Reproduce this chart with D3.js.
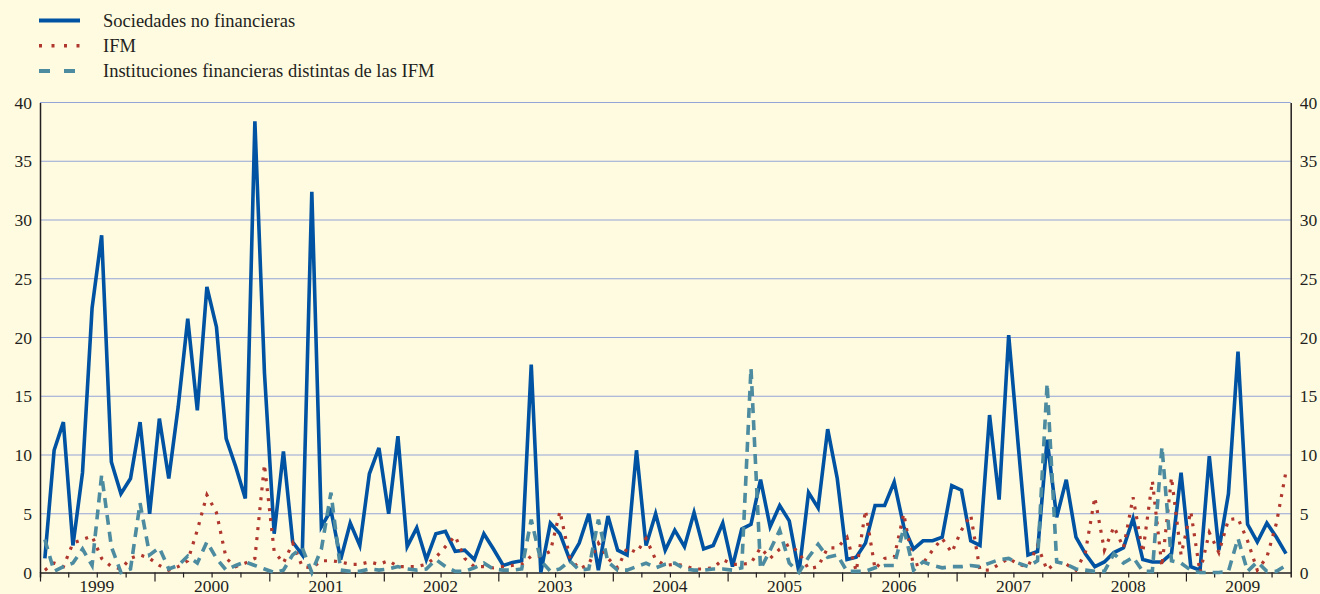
<!DOCTYPE html>
<html lang="es">
<head>
<meta charset="UTF-8">
<title>Sociedades no financieras, IFM e instituciones financieras</title>
<script src="https://cdnjs.cloudflare.com/ajax/libs/d3/7.8.5/d3.min.js"></script>
<style>
  body { margin: 0; background: #fffbe0; }
  svg { display: block; }
  svg text { font-family: "Liberation Serif", "Times New Roman", serif; }
</style>
</head>
<body>
<svg id="chart" width="1320" height="594"></svg>
<script>
// monthly data, Jan 1999 .. Nov 2009
const startMonth = new Date(1999, 0, 1);
const monthCount = 131;

const sociedades = [
  1.2, 10.4, 12.8, 2.3, 8.5, 22.5, 28.7, 9.4, 6.7, 8.0,
  12.8, 5.0, 13.1, 8.0, 14.1, 21.6, 13.8, 24.3, 20.9, 11.4,
  9.0, 6.3, 38.4, 17.0, 3.3, 10.3, 2.6, 1.5, 32.4, 3.9,
  5.3, 1.1, 4.2, 2.3, 8.4, 10.6, 5.0, 11.6, 2.2, 3.8,
  1.1, 3.3, 3.5, 1.8, 1.9, 1.1, 3.3, 2.0, 0.6, 0.85,
  1.0, 17.7, 0.0, 4.2, 3.3, 1.1, 2.5, 5.0, 0.2, 4.8,
  1.9, 1.5, 10.4, 2.3, 5.0, 1.9, 3.6, 2.2, 5.1, 2.0,
  2.3, 4.2, 0.5, 3.7, 4.1, 7.9, 3.9, 5.7, 4.4, 0.0,
  6.8, 5.5, 12.2, 8.0, 1.1, 1.3, 2.5, 5.7, 5.7, 7.7,
  3.9, 2.0, 2.7, 2.7, 3.0, 7.4, 7.0, 2.7, 2.3, 13.4,
  6.2, 20.2, 10.8, 1.5, 1.8, 11.3, 4.7, 7.9, 3.0, 1.6,
  0.5, 0.9, 1.7, 2.1, 4.6, 1.1, 0.9, 0.9, 1.6, 8.5,
  0.5, 0.2, 9.9, 1.9, 6.7, 18.8, 4.1, 2.6, 4.2, 3.0,
  1.6
];

const ifm = [
  0.2, 0.8, 0.5, 2.5, 2.8, 3.1, 1.2, 0.5, 0.3, 1.2,
  1.5, 1.2, 0.6, 0.2, 0.5, 1.0, 3.6, 6.6, 5.1, 1.2,
  0.5, 0.8, 1.2, 9.2, 1.8, 0.8, 2.5, 0.5, 0.4, 1.0,
  1.0, 0.9, 0.7, 0.7, 0.9, 0.7, 1.0, 0.5, 0.5, 0.5,
  0.7, 1.3, 2.2, 3.1, 1.2, 0.5, 0.5, 0.4, 0.5, 0.6,
  0.7, 1.4, 1.4, 1.8, 5.2, 1.3, 0.3, 0.7, 2.5, 1.2,
  0.4, 2.1, 1.7, 2.9, 1.1, 0.6, 0.7, 0.6, 0.3, 0.3,
  0.4, 1.1, 0.7, 0.7, 0.8, 2.1, 1.2, 2.0, 2.4, 1.7,
  0.3, 0.5, 2.1, 2.1, 3.0, 0.1, 5.3, 0.3, 1.2, 1.3,
  5.0, 0.6, 0.8, 1.9, 2.9, 1.7, 3.6, 4.9, 0.2, 0.2,
  0.7, 1.2, 0.7, 0.5, 2.3, 0.2, 0.9, 0.7, 0.2, 1.7,
  6.4, 1.9, 3.9, 2.1, 6.4, 1.7, 7.8, 0.5, 8.1, 1.5,
  5.2, 0.0, 3.4, 1.7, 4.5, 4.6, 2.7, 0.2, 1.3, 4.2,
  8.6
];

const otrasInstituciones = [
  2.8, 0.1, 0.5, 0.8, 2.0, 0.6, 8.3, 2.2, 0.0, 0.3,
  5.9, 1.5, 2.1, 0.3, 0.6, 1.4, 0.8, 2.6, 1.2, 0.2,
  0.6, 0.9, 0.6, 0.3, 0.0, 0.2, 1.5, 2.1, 0.0, 2.0,
  6.8, 0.2, 0.1, 0.1, 0.3, 0.2, 0.3, 0.5, 0.3, 0.2,
  0.3, 1.1, 0.5, 0.1, 0.1, 0.4, 0.8, 0.3, 0.2, 0.2,
  0.3, 4.5, 1.0, 0.1, 0.3, 1.0, 0.2, 0.3, 4.5, 0.9,
  0.2, 0.2, 0.5, 0.8, 0.4, 0.7, 0.8, 0.3, 0.2, 0.2,
  0.3, 0.3, 0.2, 0.4, 17.4, 0.3, 1.9, 3.6, 0.8, 0.0,
  1.3, 2.4, 1.3, 1.5, 0.1, 0.1, 0.1, 0.4, 0.6, 0.6,
  3.8, 0.2, 0.9, 0.6, 0.4, 0.5, 0.5, 0.6, 0.5, 0.8,
  1.1, 1.2, 0.8, 0.5, 1.0, 16.1, 0.9, 0.7, 0.3, 0.2,
  0.1, 0.1, 1.6, 0.8, 1.3, 0.1, 0.1, 10.7, 1.0, 0.8,
  0.2, 0.0, 0.0, 0.0, 0.1, 2.9, 0.1, 0.9, 0.1, 0.1,
  0.6
];

const yTicks = [0, 5, 10, 15, 20, 25, 30, 35, 40];
const years = d3.range(1999, 2010);
const seriesNames = [
  "Sociedades no financieras",
  "IFM",
  "Instituciones financieras distintas de las IFM"
];

const svg = d3.select("#chart");
const plotLeft = 40, plotRight = 1290.7, plotTop = 102.5, plotBottom = 572.5;
const ink = "#231f20";

const months = d3.range(monthCount).map(i => d3.timeMonth.offset(startMonth, i));
const x = d3.scaleTime()
  .domain([startMonth, d3.timeMonth.offset(startMonth, monthCount)])
  .range([plotLeft, plotRight]);
const y = d3.scaleLinear().domain([0, 40]).range([plotBottom, plotTop]);
const xMid = i => (x(months[i]) + x(d3.timeMonth.offset(months[i], 1))) / 2;

// grid
svg.append("g")
  .selectAll("line")
  .data(yTicks.filter(d => d > 0))
  .join("line")
  .attr("x1", plotLeft).attr("x2", plotRight)
  .attr("y1", d => y(d)).attr("y2", d => y(d))
  .attr("stroke", "#95a4d8")
  .attr("stroke-width", 1.2);

// y axes
const yLeft = svg.append("g")
  .attr("transform", `translate(${plotLeft},0)`)
  .call(d3.axisLeft(y).tickValues(yTicks).tickSize(0).tickPadding(8));
const yRight = svg.append("g")
  .attr("transform", `translate(${plotRight},0)`)
  .call(d3.axisRight(y).tickValues(yTicks).tickSize(0).tickPadding(9));
[yLeft, yRight].forEach(g => {
  g.attr("font-family", null).attr("font-size", null);
  g.select(".domain").attr("stroke", ink).attr("stroke-width", 1.5);
  g.selectAll("text").attr("fill", ink).style("font-size", "17.5px");
});

// x axis: quarter ticks, taller at year starts
const xAxis = svg.append("g")
  .attr("transform", `translate(0,${plotBottom})`)
  .call(d3.axisBottom(x)
    .ticks(d3.timeMonth.every(3))
    .tickFormat("")
    .tickSizeOuter(0)
    .tickSize(5));
xAxis.attr("font-family", null).attr("font-size", null);
xAxis.select(".domain").attr("stroke", ink).attr("stroke-width", 1.5);
xAxis.selectAll(".tick line")
  .attr("stroke", ink)
  .attr("stroke-width", 1.2)
  .attr("y2", d => d.getMonth() === 0 ? 9 : 5);

xAxis.selectAll(".year")
  .data(years)
  .join("text")
  .attr("class", "year")
  .attr("x", d => x(new Date(d, 6, 1)))
  .attr("y", 19)
  .attr("text-anchor", "middle")
  .attr("fill", ink)
  .style("font-size", "17.5px")
  .text(d => d);

// series
const line = d3.line()
  .x((d, i) => xMid(i))
  .y(d => y(d));

const series = [
  { values: sociedades, color: "#0052a3", width: 3.6, dash: null },
  { values: ifm, color: "#b0372d", width: 3.2, dash: "3,7" },
  { values: otrasInstituciones, color: "#4c8ba0", width: 3.6, dash: "10,7" }
];

svg.append("g")
  .selectAll("path")
  .data(series)
  .join("path")
  .attr("d", d => line(d.values))
  .attr("fill", "none")
  .attr("stroke", d => d.color)
  .attr("stroke-width", d => d.width)
  .attr("stroke-dasharray", d => d.dash)
  .attr("stroke-linejoin", "miter");

// legend
const legend = svg.append("g")
  .selectAll("g")
  .data(series)
  .join("g")
  .attr("transform", (d, i) => `translate(0,${20.5 + i * 25.3})`);

legend.append("line")
  .attr("x1", 39).attr("x2", 80)
  .attr("stroke", d => d.color)
  .attr("stroke-width", d => d.width + 0.4)
  .attr("stroke-dasharray", (d, i) => i === 1 ? "3,9.5" : i === 2 ? "11,14" : null);

legend.append("text")
  .attr("x", 103)
  .attr("y", 6)
  .attr("fill", ink)
  .style("font-size", "18.5px")
  .text((d, i) => seriesNames[i]);
</script>
</body>
</html>
